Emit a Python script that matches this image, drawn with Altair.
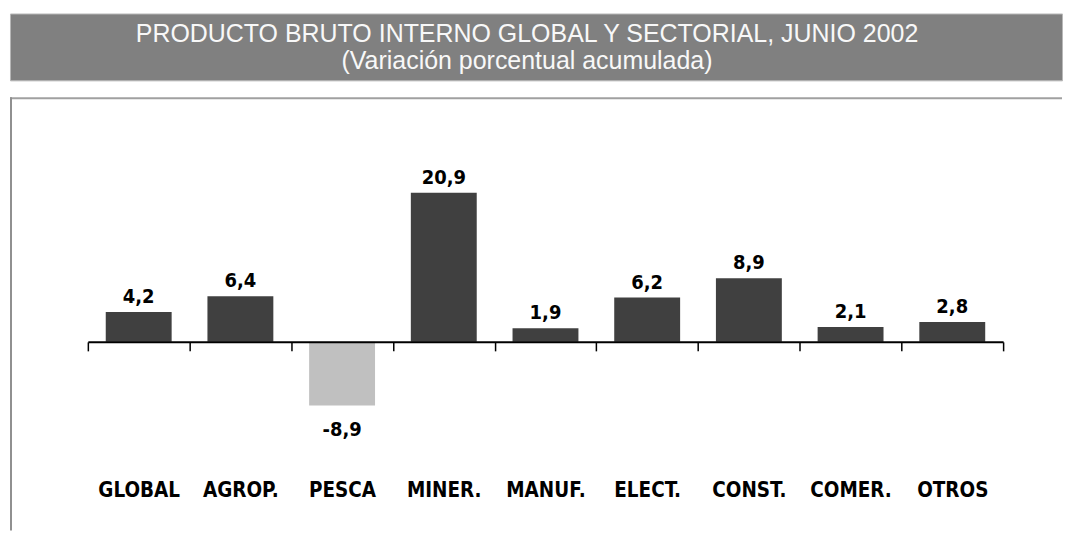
import altair as alt
import pandas as pd

categories = ["GLOBAL", "AGROP.", "PESCA", "MINER.", "MANUF.", "ELECT.", "CONST.", "COMER.", "OTROS"]
values = [4.2, 6.4, -8.9, 20.9, 1.9, 6.2, 8.9, 2.1, 2.8]
value_labels = ["4,2", "6,4", "-8,9", "20,9", "1,9", "6,2", "8,9", "2,1", "2,8"]
title_lines = ["PRODUCTO BRUTO INTERNO GLOBAL Y SECTORIAL, JUNIO 2002",
               "(Variación porcentual acumulada)"]

df = pd.DataFrame({"cat": categories, "val": values, "lab": value_labels})
df["sign"] = ["neg" if v < 0 else "pos" for v in values]

W = 1054
HB = 434
ZERO = 245
BOLD = "DejaVu Sans Condensed, sans-serif"

xenc = alt.X(
    "cat:N", sort=categories, title=None,
    scale=alt.Scale(range=[78, 995], paddingInner=0, paddingOuter=0),
    axis=alt.Axis(orient="bottom", offset=-(HB - ZERO), tickBand="extent",
                  domainColor="black", domainWidth=2, tickColor="black",
                  tickWidth=1.5, tickSize=9, labelAngle=0, labelFont=BOLD,
                  labelFontSize=20.5, labelFontWeight="bold", labelColor="black",
                  labelPadding=130, zindex=1),
)
yenc = alt.Y("val:Q", scale=alt.Scale(domain=[-20, 30], range=[ZERO + 20 * 7.15, ZERO - 30 * 7.15], nice=False),
             axis=None)

base = alt.Chart(df)
bars = base.mark_bar(width=alt.RelativeBandSize(0.648)).encode(
    x=xenc, y=yenc,
    color=alt.Color("sign:N", scale=alt.Scale(domain=["pos", "neg"], range=["#404040", "#c0c0c0"]), legend=None),
)
pos_lab = base.transform_filter("datum.val >= 0").mark_text(
    dy=-9, baseline="alphabetic", font=BOLD, fontSize=20, fontWeight="bold", color="black"
).encode(x=alt.X("cat:N", sort=categories), y="val:Q", text="lab:N")
neg_lab = base.transform_filter("datum.val < 0").mark_text(
    dy=31, baseline="alphabetic", font=BOLD, fontSize=20, fontWeight="bold", color="black"
).encode(x=alt.X("cat:N", sort=categories), y="val:Q", text="lab:N")

frame_df = pd.DataFrame({"k": [0]})
top_rule = alt.Chart(frame_df).mark_rule(color="#a0a0a0", strokeWidth=2).encode(
    x=alt.value(0), x2=alt.value(W), y=alt.value(1))
left_rule = alt.Chart(frame_df).mark_rule(color="#909090", strokeWidth=2).encode(
    x=alt.value(1), y=alt.value(0), y2=alt.value(HB))

body = alt.layer(bars, pos_lab, neg_lab, top_rule, left_rule).properties(
    width=W, height=HB, view=alt.ViewBackground(stroke="transparent"))

header = alt.Chart(frame_df).mark_text(
    text=title_lines, font="Liberation Sans, Arial, sans-serif", fontSize=25,
    color="#f8f8f8", align="center", baseline="alphabetic", lineHeight=26.5,
).encode(x=alt.value(518), y=alt.value(29)).properties(
    width=W, height=67,
    view=alt.ViewBackground(fill="#808080", stroke="#b8b8b8", strokeWidth=1))

chart = alt.vconcat(header, body, spacing=17, bounds="flush").properties(
    padding={"left": 0, "top": 4, "right": 0, "bottom": 0}
).configure_view(stroke="transparent")

chart.save("out.html", embed_options={"renderer": "svg", "actions": False})
